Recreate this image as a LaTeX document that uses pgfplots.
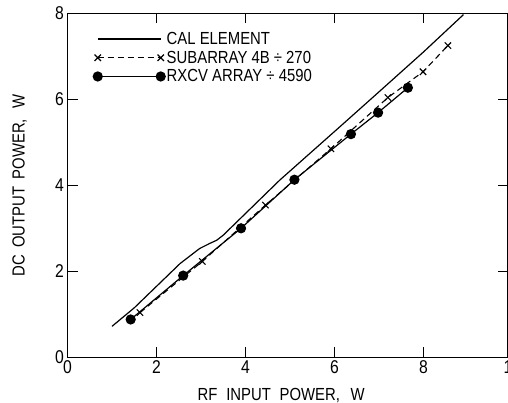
\documentclass[border=0pt]{standalone}
\usepackage{fontspec}
\setmainfont{Liberation Sans}[FakeStretch=0.85]
\usepackage{pgfplots}
\pgfplotsset{compat=1.18}
\newcommand\cf{\fontsize{17.5bp}{20bp}\selectfont}
\newcommand\tf{\fontsize{18.5bp}{20bp}\selectfont}
\pgfplotsset{
 endmarks/.style={legend image code/.code={\draw[##1] plot coordinates {(0bp,0bp) (63bp,0bp)};}},
 plainline/.style={legend image code/.code={\draw[##1] (0bp,0bp) -- (63bp,0bp);}},
}
\begin{document}
\begin{tikzpicture}
\begin{axis}[
 at={(0,0)}, anchor=south west,
 scale only axis, width=440.5bp, height=344bp,
 xmin=0, xmax=9.9, ymin=0, ymax=8,
 xtick={0,2,4,6,8}, ytick={0,2,4,6,8},
 major tick length=10bp,
 tick style={black, line width=1.5bp},
 /pgf/number format/assume math mode=true,
 tick label style={font=\tf},
 axis line style={line width=1.2bp},
 xlabel={RF\hspace{0.5em}INPUT\hspace{0.5em}POWER,\hspace{0.6em}W},
 ylabel={DC\hspace{0.4em}OUTPUT\hspace{0.4em}POWER,\hspace{0.6em}W},
 label style={font=\cf},
 xlabel style={at={(axis description cs:0.485,-0.09)}, anchor=north, inner sep=0pt},
 ylabel style={at={(axis description cs:-0.092,0.5)}, anchor=south, inner sep=0pt},
 legend cell align=left,
 legend style={at={(axis description cs:0.058,0.95)}, anchor=north west, draw=none, fill=none, font=\cf, inner sep=0pt, row sep=2bp,
   nodes={inner sep=1.5bp}},
]
\addplot[black, line width=1.2bp, plainline] coordinates {
(1.0,0.72)(1.5,1.15)(2.0,1.65)(2.53,2.18)(2.97,2.53)(3.2,2.65)(3.35,2.72)(3.5,2.84)(4.77,4.12)(6.12,5.36)(6.9,6.08)(8.0,7.1)(8.9,7.97)};
\addlegendentry{CAL ELEMENT}
\addplot[black, line width=1.1bp, dash pattern=on 6bp off 4bp, mark=x, mark size=4.5bp, mark options={solid, line width=1.1bp}, endmarks] coordinates {
(1.63,1.04)(3.03,2.23)(4.45,3.54)(5.92,4.85)(7.2,6.04)(7.99,6.64)(8.55,7.25)};
\addlegendentry{SUBARRAY 4B ÷ 270}
\addplot[black, line width=1.2bp, mark=*, mark size=4.5bp, endmarks] coordinates {
(1.42,0.88)(2.6,1.9)(3.9,3.0)(5.1,4.13)(6.37,5.19)(6.98,5.69)(7.65,6.27)};
\addlegendentry{RXCV ARRAY ÷ 4590}
\coordinate (ten) at (axis cs:10,0);
\coordinate (b2) at (axis cs:2,0); \coordinate (b4) at (axis cs:4,0);
\coordinate (b6) at (axis cs:6,0); \coordinate (b8) at (axis cs:8,0);
\coordinate (t2) at (axis cs:2,8); \coordinate (t4) at (axis cs:4,8);
\coordinate (t6) at (axis cs:6,8); \coordinate (t8) at (axis cs:8,8);
\coordinate (l2) at (axis cs:0,2); \coordinate (l4) at (axis cs:0,4);
\coordinate (l6) at (axis cs:0,6);
\coordinate (r2) at (axis cs:9.9,2); \coordinate (r4) at (axis cs:9.9,4);
\coordinate (r6) at (axis cs:9.9,6);
\end{axis}
\begin{scope}[line width=1.5bp, black]
\foreach \p in {b2,b4,b6,b8} {\draw (\p) -- ++(0,10bp);}
\foreach \p in {t2,t4,t6,t8} {\draw (\p) -- ++(0,-10bp);}
\foreach \p in {l2,l4,l6} {\draw (\p) -- ++(10bp,0);}
\foreach \p in {r2,r4,r6} {\draw (\p) -- ++(-10bp,0);}
\end{scope}
\node[font=\tf, anchor=north, inner sep=0.333em] at (ten) {10};
\pgfresetboundingbox
\useasboundingbox (-67.5bp,-45.7bp) rectangle (440.5bp,357.3bp);
\end{tikzpicture}
\end{document}
